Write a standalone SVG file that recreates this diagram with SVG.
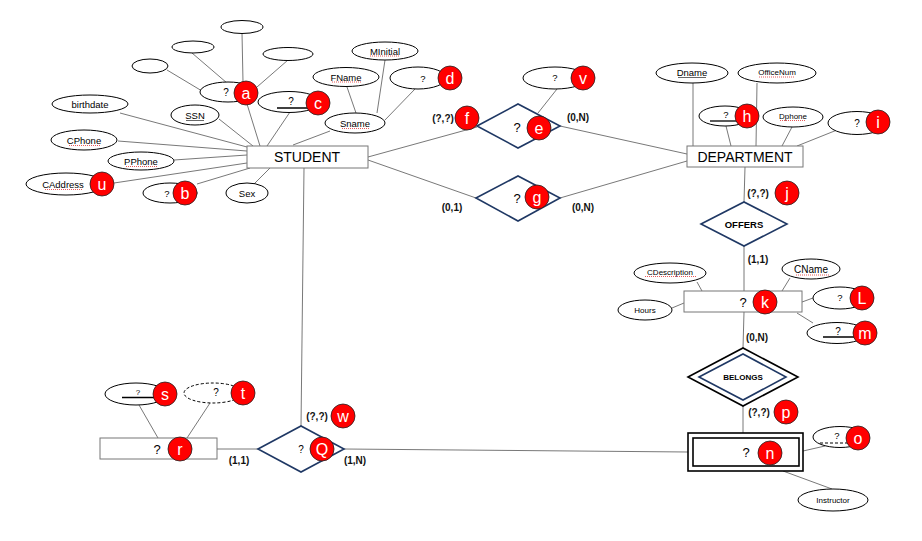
<svg xmlns="http://www.w3.org/2000/svg" width="922" height="541" viewBox="0 0 922 541">
<style>
.bg{fill:#fff}
.el{fill:#fff;stroke:#000;stroke-width:1}
.dash{stroke-dasharray:3 2}
.box{fill:#fff;stroke:#777;stroke-width:1}
.dia{fill:#fff;stroke:#1f3864;stroke-width:1.6}
.ln{stroke:#555;stroke-width:0.8;fill:none}
.t{font-family:"Liberation Sans",Arial,sans-serif;fill:#000;text-anchor:middle;dominant-baseline:central}
.s8{font-size:8px}
.s9{font-size:9.5px}
.s10{font-size:10px}
.big{font-size:14px}
.q{font-size:13px}
.b{font-weight:bold}
.card{font-family:"Liberation Sans",Arial,sans-serif;font-size:10px;font-weight:bold;fill:#111;text-anchor:middle;dominant-baseline:central}
.rc{fill:#f00;stroke:#222;stroke-width:0.8}
.rl{font-family:"Liberation Sans",Arial,sans-serif;font-size:16px;fill:#fff;text-anchor:middle;dominant-baseline:central}
.ul{stroke:#000;stroke-width:1.3}
.sq{stroke:#e03030;stroke-width:0.8;stroke-dasharray:1 1}
</style>
<rect class="bg" x="0" y="0" width="922" height="541"/>
<g id="connectors">
<line class="ln" x1="167" y1="70" x2="202" y2="91"/>
<line class="ln" x1="192" y1="53" x2="227" y2="83"/>
<line class="ln" x1="242" y1="33" x2="243" y2="82"/>
<line class="ln" x1="288" y1="60" x2="257" y2="87"/>
<line class="ln" x1="247" y1="104" x2="260" y2="146"/>
<line class="ln" x1="290" y1="112" x2="267" y2="146"/>
<line class="ln" x1="219" y1="119" x2="253" y2="146"/>
<line class="ln" x1="120" y1="113" x2="247" y2="147"/>
<line class="ln" x1="118" y1="141" x2="247" y2="151"/>
<line class="ln" x1="174" y1="160" x2="247" y2="155"/>
<line class="ln" x1="114" y1="183" x2="247" y2="163"/>
<line class="ln" x1="197" y1="184" x2="250" y2="168"/>
<line class="ln" x1="253" y1="185" x2="270" y2="168"/>
<line class="ln" x1="293" y1="145" x2="330" y2="131"/>
<line class="ln" x1="347" y1="87" x2="356" y2="113"/>
<line class="ln" x1="385" y1="60" x2="377" y2="113"/>
<line class="ln" x1="415" y1="89" x2="385" y2="120"/>
<line class="ln" x1="368" y1="157" x2="477" y2="127"/>
<line class="ln" x1="560" y1="126" x2="687" y2="154"/>
<line class="ln" x1="557" y1="89" x2="538" y2="113"/>
<line class="ln" x1="368" y1="160" x2="476" y2="198"/>
<line class="ln" x1="560" y1="198" x2="687" y2="161"/>
<line class="ln" x1="693" y1="83" x2="693" y2="146"/>
<line class="ln" x1="757" y1="83" x2="756" y2="146"/>
<line class="ln" x1="726" y1="126" x2="731" y2="146"/>
<line class="ln" x1="792" y1="127" x2="782" y2="146"/>
<line class="ln" x1="837" y1="130" x2="797" y2="146"/>
<line class="ln" x1="745" y1="167" x2="744" y2="202"/>
<line class="ln" x1="744" y1="246" x2="744" y2="291"/>
<line class="ln" x1="697" y1="282" x2="702" y2="291"/>
<line class="ln" x1="790" y1="278" x2="782" y2="291"/>
<line class="ln" x1="672" y1="308" x2="684" y2="303"/>
<line class="ln" x1="813" y1="298" x2="802" y2="302"/>
<line class="ln" x1="813" y1="323" x2="797" y2="313"/>
<line class="ln" x1="744" y1="312" x2="743" y2="348"/>
<line class="ln" x1="743" y1="406" x2="743" y2="433"/>
<line class="ln" x1="825" y1="446" x2="803" y2="451"/>
<line class="ln" x1="832" y1="489" x2="783" y2="471"/>
<line class="ln" x1="344" y1="449" x2="688" y2="452"/>
<line class="ln" x1="304" y1="168" x2="301" y2="426"/>
<line class="ln" x1="217" y1="449" x2="258" y2="449"/>
<line class="ln" x1="139" y1="405" x2="158" y2="438"/>
<line class="ln" x1="210" y1="403" x2="187" y2="438"/>
</g>
<g id="student">
<rect class="box" x="247" y="146" width="121" height="22"/>
<text class="t big" x="307" y="157">STUDENT</text>
</g>
<g id="attr-a-sub1"><ellipse class="el" cx="242" cy="27" rx="21" ry="6.5"/></g>
<g id="attr-a-sub2"><ellipse class="el" cx="193" cy="47" rx="21" ry="6"/></g>
<g id="attr-a-sub3"><ellipse class="el" cx="150" cy="66" rx="18" ry="7"/></g>
<g id="attr-a-sub4"><ellipse class="el" cx="288" cy="54" rx="25" ry="6.5"/></g>
<g id="attr-a">
<ellipse class="el" cx="228" cy="92" rx="28" ry="10"/>
<text class="t s10" x="226" y="92">?</text>
</g>
<g id="attr-c">
<ellipse class="el" cx="289" cy="102" rx="31" ry="10.5"/>
<text class="t s10" x="291" y="101">?</text>
<line class="ul" x1="277" y1="108" x2="310" y2="108"/>
</g>
<g id="attr-birthdate">
<ellipse class="el" cx="90" cy="104" rx="38" ry="9"/>
<text class="t s9" x="90" y="104">birthdate</text>
</g>
<g id="attr-ssn">
<ellipse class="el" cx="195" cy="115" rx="24" ry="10"/>
<text class="t s9" x="195" y="115">SSN</text>
<line x1="186" y1="120.5" x2="204" y2="120.5" stroke="#000" stroke-width="0.6"/>
</g>
<g id="attr-cphone">
<ellipse class="el" cx="84" cy="140" rx="33" ry="10"/>
<text class="t s9" x="84" y="140">CPhone</text>
<line class="sq" x1="69" y1="145.5" x2="100" y2="145.5"/>
</g>
<g id="attr-pphone">
<ellipse class="el" cx="141" cy="161" rx="33" ry="9"/>
<text class="t s9" x="141" y="161">PPhone</text>
<line class="sq" x1="126" y1="166.5" x2="157" y2="166.5"/>
</g>
<g id="attr-caddress">
<ellipse class="el" cx="66" cy="184" rx="40" ry="11"/>
<text class="t s9" x="63" y="184">CAddress</text>
<line class="sq" x1="45" y1="189.5" x2="82" y2="189.5"/>
</g>
<g id="attr-b">
<ellipse class="el" cx="170" cy="193" rx="27" ry="10"/>
<text class="t s9" x="167" y="193">?</text>
</g>
<g id="attr-sex">
<ellipse class="el" cx="247" cy="193" rx="21" ry="10"/>
<text class="t s9" x="247" y="193">Sex</text>
</g>
<g id="attr-minitial">
<ellipse class="el" cx="385" cy="51" rx="33" ry="9"/>
<text class="t s9" x="385" y="51">MInitial</text>
<line class="sq" x1="370" y1="56" x2="400" y2="56"/>
</g>
<g id="attr-fname">
<ellipse class="el" cx="346" cy="77" rx="33" ry="9.5"/>
<text class="t s9" x="346" y="77">FName</text>
<line class="sq" x1="332" y1="82" x2="361" y2="82"/>
</g>
<g id="attr-d">
<ellipse class="el" cx="418" cy="78" rx="28" ry="11"/>
<text class="t s9" x="423" y="78">?</text>
</g>
<g id="attr-sname">
<ellipse class="el" cx="355" cy="123" rx="30" ry="10"/>
<text class="t s9" x="355" y="123">Sname</text>
<line class="sq" x1="342" y1="128.5" x2="369" y2="128.5"/>
</g>
<g id="rel-e">
<polygon class="dia" points="477,126 518,104 560,126 518,148"/>
<text class="t q" x="517" y="127">?</text>
</g>
<g id="attr-v">
<ellipse class="el" cx="555" cy="78" rx="32" ry="11"/>
<text class="t s9" x="555" y="77">?</text>
</g>
<g id="rel-g">
<polygon class="dia" points="476,198 518,176 560,198 518,221"/>
<text class="t q" x="517" y="198">?</text>
</g>
<g id="department">
<rect class="box" x="687" y="146" width="116" height="21"/>
<text class="t big" x="745" y="157">DEPARTMENT</text>
</g>
<g id="attr-dname">
<ellipse class="el" cx="692" cy="73" rx="36" ry="10"/>
<text class="t s9" x="692" y="72">Dname</text>
<line x1="678" y1="77.5" x2="706" y2="77.5" stroke="#000" stroke-width="0.6"/>
</g>
<g id="attr-officenum">
<ellipse class="el" cx="777" cy="73" rx="39" ry="10"/>
<text class="t s8" x="777" y="72">OfficeNum</text>
<line class="sq" x1="759" y1="77" x2="795" y2="77"/>
</g>
<g id="attr-h">
<ellipse class="el" cx="725" cy="116" rx="26" ry="10"/>
<text class="t s9" x="726" y="114">?</text>
<line class="ul" x1="710" y1="121" x2="737" y2="121"/>
</g>
<g id="attr-dphone">
<ellipse class="el" cx="793" cy="117" rx="30" ry="10"/>
<text class="t s8" x="793" y="116">Dphone</text>
<line class="sq" x1="780" y1="120.5" x2="806" y2="120.5"/>
</g>
<g id="attr-i">
<ellipse class="el" cx="857" cy="123" rx="29" ry="11.5"/>
<text class="t s10" x="857" y="123">?</text>
</g>
<g id="rel-offers">
<polygon class="dia" points="701,224 744,202 787,224 744,246"/>
<text class="t s9 b" x="744" y="224">OFFERS</text>
</g>
<g id="entity-k">
<rect class="box" x="684" y="291" width="118" height="21"/>
<text class="t q" x="743" y="302">?</text>
</g>
<g id="attr-cdescription">
<ellipse class="el" cx="670" cy="273" rx="36" ry="10"/>
<text class="t s8" x="670" y="272">CDescription</text>
<line class="sq" x1="645" y1="276.5" x2="696" y2="276.5"/>
</g>
<g id="attr-cname">
<ellipse class="el" cx="811" cy="269" rx="29" ry="10"/>
<text class="t s10" x="811" y="269">CName</text>
<line class="sq" x1="796" y1="275" x2="830" y2="275"/>
</g>
<g id="attr-hours">
<ellipse class="el" cx="645" cy="310" rx="27" ry="10"/>
<text class="t s8" x="645" y="310">Hours</text>
</g>
<g id="attr-l">
<ellipse class="el" cx="840" cy="298" rx="27" ry="11"/>
<text class="t s9" x="840" y="297">?</text>
</g>
<g id="attr-m">
<ellipse class="el" cx="837" cy="333" rx="30" ry="10.5"/>
<text class="t s10" x="838" y="331">?</text>
<line class="ul" x1="823" y1="337" x2="857" y2="337"/>
</g>
<g id="rel-belongs">
<polygon points="688,377 743,348 798,377 743,406" fill="#fff" stroke="#000" stroke-width="1.6"/>
<polygon points="699,377 743,354 786,377 743,400" fill="#fff" stroke="#1f3864" stroke-width="1.6"/>
<text class="t s8 b" x="743" y="377">BELONGS</text>
</g>
<g id="entity-n">
<rect x="688" y="433" width="115" height="38" fill="#fff" stroke="#000" stroke-width="1.6"/>
<rect x="693" y="438" width="106" height="28" fill="#fff" stroke="#000" stroke-width="1.6"/>
<text class="t q" x="746" y="452">?</text>
</g>
<g id="attr-o">
<ellipse class="el" cx="840" cy="437" rx="27" ry="10.5"/>
<text class="t s9" x="837" y="435">?</text>
<line x1="820" y1="443" x2="848" y2="443" stroke="#000" stroke-width="1" stroke-dasharray="3 2"/>
</g>
<g id="attr-instructor">
<ellipse class="el" cx="833" cy="500" rx="35" ry="11"/>
<text class="t s8" x="833" y="500">Instructor</text>
</g>
<g id="rel-q">
<polygon class="dia" points="258,449 301,426 344,449 301,472"/>
<text class="t s10" x="301" y="449">?</text>
</g>
<g id="entity-r">
<rect class="box" x="100" y="438" width="117" height="21"/>
<text class="t q" x="157" y="449">?</text>
</g>
<g id="attr-s">
<ellipse class="el" cx="136" cy="394" rx="31" ry="11"/>
<text class="t s8" x="138" y="392">?</text>
<line class="ul" x1="122" y1="397.5" x2="155" y2="397.5"/>
</g>
<g id="attr-t">
<ellipse class="el dash" cx="213" cy="393" rx="29" ry="10"/>
<text class="t s10" x="216" y="392">?</text>
</g>
<g id="cardinalities">
<text class="card" x="443" y="118">(?,?)</text>
<text class="card" x="578" y="117">(0,N)</text>
<text class="card" x="452" y="207">(0,1)</text>
<text class="card" x="583" y="207">(0,N)</text>
<text class="card" x="758" y="193">(?,?)</text>
<text class="card" x="758" y="259">(1,1)</text>
<text class="card" x="757" y="337">(0,N)</text>
<text class="card" x="759" y="412">(?,?)</text>
<text class="card" x="317" y="416">(?,?)</text>
<text class="card" x="239" y="460">(1,1)</text>
<text class="card" x="355" y="460">(1,N)</text>
</g>
<g id="markers">
<circle class="rc" cx="246" cy="93" r="12"/><text class="rl" x="246" y="93">a</text>
<circle class="rc" cx="185" cy="193" r="12"/><text class="rl" x="185" y="193">b</text>
<circle class="rc" cx="318" cy="103" r="12"/><text class="rl" x="318" y="103">c</text>
<circle class="rc" cx="450" cy="78" r="12"/><text class="rl" x="450" y="78">d</text>
<circle class="rc" cx="539" cy="128" r="12"/><text class="rl" x="539" y="128">e</text>
<circle class="rc" cx="467" cy="118" r="12"/><text class="rl" x="467" y="118">f</text>
<circle class="rc" cx="537" cy="197" r="12"/><text class="rl" x="537" y="197">g</text>
<circle class="rc" cx="747" cy="116" r="12"/><text class="rl" x="747" y="116">h</text>
<circle class="rc" cx="878" cy="122" r="12"/><text class="rl" x="878" y="122">i</text>
<circle class="rc" cx="787" cy="193" r="12"/><text class="rl" x="787" y="193">j</text>
<circle class="rc" cx="765" cy="302" r="12"/><text class="rl" x="765" y="302">k</text>
<circle class="rc" cx="862" cy="298" r="12"/><text class="rl" x="862" y="298">L</text>
<circle class="rc" cx="865" cy="333" r="12"/><text class="rl" x="865" y="333">m</text>
<circle class="rc" cx="770" cy="453" r="12"/><text class="rl" x="770" y="453">n</text>
<circle class="rc" cx="858" cy="438" r="12"/><text class="rl" x="858" y="438">o</text>
<circle class="rc" cx="786" cy="412" r="12"/><text class="rl" x="786" y="412">p</text>
<circle class="rc" cx="322" cy="449" r="12"/><text class="rl" x="322" y="449">Q</text>
<circle class="rc" cx="180" cy="449" r="12"/><text class="rl" x="180" y="449">r</text>
<circle class="rc" cx="165" cy="394" r="12"/><text class="rl" x="165" y="394">s</text>
<circle class="rc" cx="243" cy="393" r="12"/><text class="rl" x="243" y="393">t</text>
<circle class="rc" cx="102" cy="184" r="12"/><text class="rl" x="102" y="184">u</text>
<circle class="rc" cx="583" cy="78" r="12"/><text class="rl" x="583" y="78">v</text>
<circle class="rc" cx="343" cy="416" r="12"/><text class="rl" x="343" y="416">w</text>
</g>
</svg>
